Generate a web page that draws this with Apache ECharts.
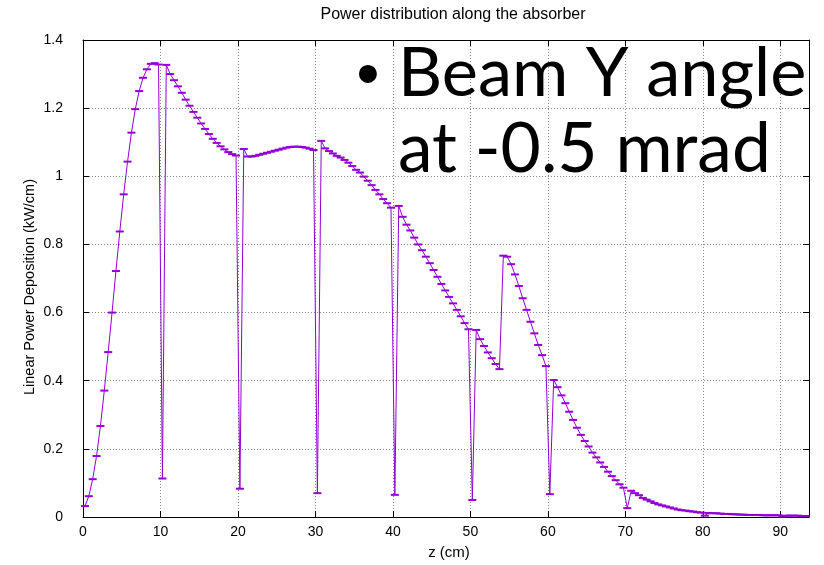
<!DOCTYPE html>
<html>
<head>
<meta charset="utf-8">
<script src="https://cdn.jsdelivr.net/npm/echarts@6/dist/echarts.min.js"></script>
<style>
html,body{margin:0;padding:0;background:#fff;}
#chart{width:824px;height:565px;}
</style>
</head>
<body>
<div id="chart"></div>
<script>
// Sampling grid of the profile (bin centres, cm)
var zStart = 0.25;
var zStep = 0.5;

// Linear power deposition (kW/cm), one array per 10 cm block
var seg0_10  = [0.032, 0.061, 0.111, 0.179, 0.267, 0.371, 0.484, 0.600, 0.722, 0.838, 0.947, 1.043, 1.128, 1.197, 1.250, 1.289, 1.314, 1.330, 1.332, 1.328];
var seg10_20 = [0.113, 1.327, 1.300, 1.282, 1.264, 1.245, 1.225, 1.207, 1.189, 1.172, 1.155, 1.139, 1.124, 1.110, 1.098, 1.088, 1.079, 1.071, 1.065, 1.061];
var seg20_30 = [0.083, 1.080, 1.058, 1.058, 1.060, 1.063, 1.066, 1.069, 1.072, 1.075, 1.078, 1.081, 1.084, 1.086, 1.087, 1.087, 1.086, 1.084, 1.081, 1.077];
var seg30_40 = [0.070, 1.104, 1.082, 1.074, 1.067, 1.060, 1.055, 1.048, 1.040, 1.030, 1.019, 1.011, 0.999, 0.987, 0.974, 0.960, 0.947, 0.933, 0.921, 0.908];
var seg40_50 = [0.065, 0.913, 0.881, 0.858, 0.841, 0.820, 0.800, 0.783, 0.764, 0.745, 0.725, 0.705, 0.684, 0.665, 0.646, 0.627, 0.608, 0.589, 0.569, 0.551];
var seg50_60 = [0.050, 0.549, 0.522, 0.502, 0.483, 0.466, 0.449, 0.434, 0.767, 0.764, 0.742, 0.712, 0.678, 0.642, 0.608, 0.573, 0.539, 0.505, 0.475, 0.443];
var seg60_70 = [0.067, 0.402, 0.381, 0.357, 0.334, 0.309, 0.285, 0.262, 0.241, 0.223, 0.207, 0.189, 0.175, 0.160, 0.147, 0.133, 0.120, 0.108, 0.096, 0.086];
var seg70_80 = [0.026, 0.077, 0.070, 0.064, 0.056, 0.051, 0.046, 0.041, 0.037, 0.034, 0.031, 0.028, 0.025, 0.022, 0.020, 0.019, 0.017, 0.016, 0.014, 0.013];
var seg80_90 = [0.004, 0.012, 0.011, 0.011, 0.010, 0.009, 0.009, 0.008, 0.008, 0.007, 0.007, 0.006, 0.006, 0.006, 0.006, 0.005, 0.005, 0.005, 0.005, 0.005];
var seg90_94 = [0.001, 0.004, 0.004, 0.004, 0.004, 0.003, 0.003, 0.003];

// Axis ranges / ticks
var xMin = 0, xMax = 93.7, xInterval = 10;
var yMin = 0, yMax = 1.4, yInterval = 0.2;

var titleText = 'Power distribution along the absorber';
var xName = 'z (cm)';
var yName = 'Linear Power Deposition (kW/cm)';
var noteBullet = '\u2022';
var noteLine1 = 'Beam Y angle';
var noteLine2 = 'at -0.5 mrad';

var power = [].concat(seg0_10, seg10_20, seg20_30, seg30_40, seg40_50,
                      seg50_60, seg60_70, seg70_80, seg80_90, seg90_94);
var points = power.map(function (v, i) { return [zStart + zStep * i, v]; });

var chart = echarts.init(document.getElementById('chart'), null, {renderer: 'canvas'});
var labelFont = 'Liberation Sans';
var purple = '#9400d3';

var option = {
  backgroundColor: '#fff',
  animation: false,
  grid: {left: 83, right: 15, top: 40, bottom: 48},
  xAxis: [{
    type: 'value', min: xMin, max: xMax, interval: xInterval, position: 'bottom',
    axisLine: {show: true, onZero: false, lineStyle: {color: '#000', width: 1}},
    axisTick: {show: true, inside: true, length: 6, lineStyle: {color: '#000'}},
    axisLabel: {color: '#000', fontSize: 14, fontFamily: labelFont, margin: 8,
      formatter: function (v) { return (Math.abs(v % xInterval) < 1e-6) ? String(v) : ''; }},
    splitLine: {show: true, lineStyle: {color: '#888', type: [1, 2], width: 1}}
  }, {
    type: 'value', min: xMin, max: xMax, interval: xInterval, position: 'top',
    axisLine: {show: true, onZero: false, lineStyle: {color: '#000', width: 1}},
    axisTick: {show: true, inside: true, length: 6, lineStyle: {color: '#000'}},
    axisLabel: {show: false}, splitLine: {show: false}
  }],
  yAxis: [{
    type: 'value', min: yMin, max: yMax, interval: yInterval, position: 'left',
    axisLine: {show: true, onZero: false, lineStyle: {color: '#000', width: 1}},
    axisTick: {show: true, inside: true, length: 6, lineStyle: {color: '#000'}},
    axisLabel: {color: '#000', fontSize: 14, fontFamily: labelFont, margin: 20},
    splitLine: {show: true, lineStyle: {color: '#888', type: [1, 2], width: 1}}
  }, {
    type: 'value', min: yMin, max: yMax, interval: yInterval, position: 'right',
    axisLine: {show: true, onZero: false, lineStyle: {color: '#000', width: 1}},
    axisTick: {show: true, inside: true, length: 6, lineStyle: {color: '#000'}},
    axisLabel: {show: false}, splitLine: {show: false}
  }],
  series: [{
    type: 'line',
    xAxisIndex: 0, yAxisIndex: 0,
    data: points,
    showSymbol: true,
    showAllSymbol: true,
    symbol: 'rect',
    symbolSize: [8, 2],
    clip: true,
    lineStyle: {color: purple, width: 1},
    itemStyle: {color: purple},
    emphasis: {disabled: true}
  }],
  graphic: [
    {type: 'text', x: 453, y: 15,
     style: {text: titleText, fontSize: 16, fontFamily: labelFont, fill: '#000', align: 'center', verticalAlign: 'middle'}},
    {type: 'text', x: 449, y: 553,
     style: {text: xName, fontSize: 15, fontFamily: labelFont, fill: '#000', align: 'center', verticalAlign: 'middle'}},
    {type: 'text', x: 30, y: 287, rotation: Math.PI / 2,
     style: {text: yName, fontSize: 14.5, fontFamily: labelFont, fill: '#000', align: 'center', verticalAlign: 'middle'}},
    {type: 'text', x: 354, y: 73, z: 100,
     style: {text: noteBullet, fontSize: 48, fontFamily: 'Lato', fill: '#000', align: 'left', verticalAlign: 'middle'}},
    {type: 'text', x: 398, y: 74, z: 100,
     style: {text: noteLine1, fontSize: 68.5, fontFamily: 'Lato', fill: '#000', align: 'left', verticalAlign: 'middle'}},
    {type: 'text', x: 398, y: 150, z: 100,
     style: {text: noteLine2, fontSize: 69.5, fontFamily: 'Lato', fill: '#000', align: 'left', verticalAlign: 'middle'}}
  ]
};
chart.setOption(option);
</script>
</body>
</html>
